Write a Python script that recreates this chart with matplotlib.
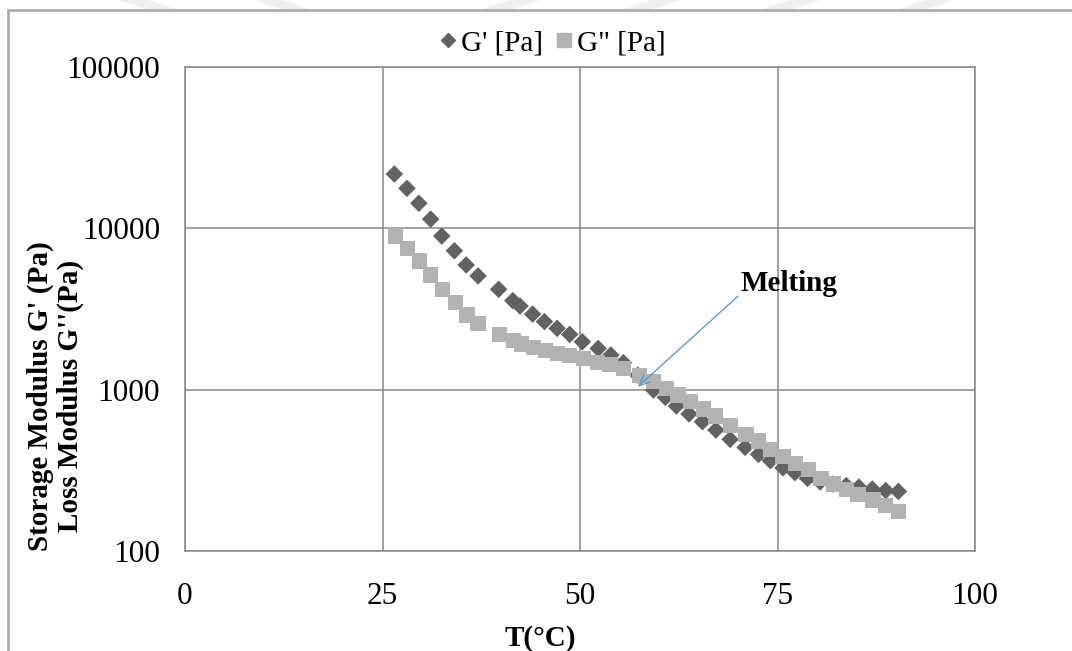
import matplotlib
matplotlib.use("Agg")
import matplotlib.pyplot as plt
from matplotlib.patches import Polygon, Rectangle
from matplotlib.lines import Line2D

plt.rcParams['font.family'] = ['Liberation Serif', 'DejaVu Serif']

# ---------------- data ----------------
t_gp = [26.5, 28.1, 29.6, 31.1, 32.5, 34.1, 35.6, 37.1, 39.7, 41.5, 42.4, 44.0,
        45.5, 47.1, 48.7, 50.3, 52.3, 53.9, 55.5, 57.3, 59.3, 60.8, 62.2, 63.8,
        65.5, 67.2, 69.0, 70.9, 72.6, 74.1, 75.7, 77.2, 78.8, 80.4, 82.0, 83.7,
        85.3, 87.0, 88.7, 90.3]
g_storage = [21700, 17700, 14300, 11400, 8960, 7260, 5930, 5070, 4190, 3560, 3300, 2940,
             2640, 2400, 2200, 1980, 1800, 1640, 1470, 1230, 995, 897, 792, 707,
             633, 562, 492, 439, 397, 363, 328, 306, 282, 268, 260, 254,
             249, 242, 237, 234]

t_gpp = [26.6, 28.2, 29.7, 31.1, 32.6, 34.2, 35.7, 37.1, 39.8, 41.6, 42.6, 44.1,
         45.6, 47.2, 48.7, 50.4, 52.2, 53.8, 55.5, 57.5, 59.3, 60.9, 62.4, 64.0,
         65.6, 67.2, 69.1, 71.0, 72.6, 74.1, 75.7, 77.3, 78.9, 80.5, 82.1, 83.7,
         85.2, 87.1, 88.7, 90.3]
g_loss = [8960, 7520, 6280, 5140, 4190, 3460, 2900, 2580, 2200, 2010, 1920, 1830,
          1740, 1680, 1620, 1560, 1480, 1440, 1350, 1220, 1120, 1020, 927, 842,
          758, 687, 598, 529, 481, 427, 384, 350, 321, 282, 260, 241,
          224, 207, 192, 175]

x_ticks = [0, 25, 50, 75, 100]
y_ticks = [100, 1000, 10000, 100000]
y_tick_labels = ['100', '1000', '10000', '100000']
legend_labels = ["G' [Pa]", 'G" [Pa]']
x_label = 'T(°C)'
y_label = "Storage Modulus G' (Pa)\nLoss Modulus G''(Pa)"
annot_text = 'Melting'
annot_xy = (57.3, 1040)
annot_text_xy = (70.0, 3800)

# ---------------- figure ----------------
W, H = 1072, 651
fig = plt.figure(figsize=(W / 100, H / 100), dpi=100)

# faint watermark bands at the very top
band_col = '#efefef'
bands = [((118, 0), (148, 0), (180, 10), (150, 10)),
         ((253, 0), (283, 0), (313, 10), (283, 10)),
         ((510, 0), (540, 0), (510, 10), (480, 10)),
         ((650, 0), (680, 0), (650, 10), (620, 10)),
         ((790, 0), (820, 0), (790, 10), (760, 10)),
         ((925, 0), (955, 0), (925, 10), (895, 10))]
for b in bands:
    fig.patches.append(Polygon([(x / W, 1 - y / H) for x, y in b], closed=True,
                               facecolor=band_col, edgecolor='none',
                               transform=fig.transFigure, zorder=0))

# outer chart frame
fig.patches.append(Rectangle((8 / W, -0.05), 1.1, 1 - 10 / H + 0.05,
                             facecolor='none', edgecolor='#a6a6a6', lw=1.8,
                             transform=fig.transFigure, zorder=1))

ax = fig.add_axes([185 / W, 1 - 551 / H, (975 - 185) / W, (551 - 67) / H])
ax.set_yscale('log')
ax.set_xlim(0, 100)
ax.set_ylim(100, 100000)

grid_col = '#878787'
ax.set_xticks(x_ticks)
ax.set_yticks(y_ticks)
ax.set_yticklabels(y_tick_labels)
ax.yaxis.set_minor_locator(matplotlib.ticker.NullLocator())
ax.grid(True, which='major', color=grid_col, lw=1.1)
ax.set_axisbelow(True)
for s in ax.spines.values():
    s.set_color(grid_col)
    s.set_linewidth(1.1)
ax.tick_params(axis='both', which='both', length=0, labelsize=22.5, colors='black')
ax.tick_params(axis='x', pad=22)
ax.tick_params(axis='y', pad=18)

ax.scatter(t_gp, g_storage, marker='D', s=80, color='#626262', edgecolors='none',
           zorder=3, label=legend_labels[0])
ax.scatter(t_gpp, g_loss, marker='s', s=120, color='#b2b2b2', edgecolors='none',
           zorder=4, label=legend_labels[1])

ax.annotate('', xy=annot_xy, xytext=annot_text_xy,
            arrowprops=dict(arrowstyle='->,head_length=0.8,head_width=0.35',
                            color='#5b9bd5', lw=1.0, shrinkA=0, shrinkB=0),
            zorder=6)
ax.text(70.3, 4550, annot_text, fontsize=21, fontweight='bold', ha='left',
        va='center', zorder=6)

ax.set_xlabel(x_label, fontsize=21, fontweight='bold', va='center')
ax.xaxis.set_label_coords((540 - 185) / 790, -(638 - 551) / 484)
ax.set_ylabel(y_label, fontsize=21, fontweight='bold', linespacing=1.15)
ax.yaxis.set_label_coords((84 - 185) / 790, 0.32)

handles = [Line2D([], [], marker='D', color='#626262', ls='none', markersize=7),
           Line2D([], [], marker='s', color='#b2b2b2', ls='none', markersize=10)]
fig.legend(handles, legend_labels, loc='center', bbox_to_anchor=(551 / W, 1 - 43 / H),
           ncol=2, frameon=False, fontsize=21, handletextpad=0.05, columnspacing=0.3,
           handlelength=0.8)

fig.savefig('out.png', dpi=100, facecolor='white')
